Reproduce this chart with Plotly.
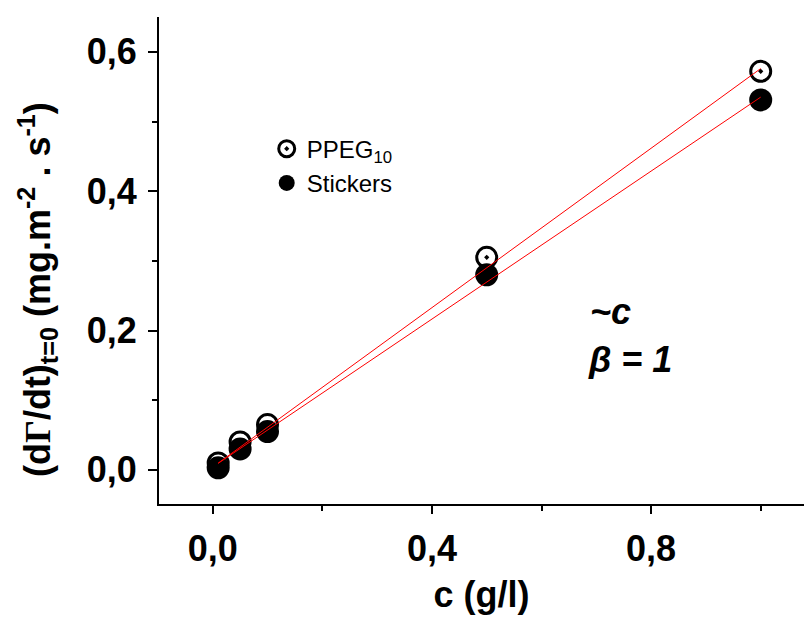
import plotly.graph_objects as go
import numpy as np

# Data
conc = [0.01, 0.05, 0.1, 0.5, 1.0]
ppeg10 = [0.010, 0.040, 0.065, 0.305, 0.572]
stickers = [0.003, 0.030, 0.055, 0.280, 0.531]

# linear fits (slope, intercept)
fit_ppeg = [0.572, 0.004]
fit_stick = [0.531, 0.004]
fit_x = [0.01, 1.0]

x_ticks = [0, 0.4, 0.8]
y_ticks = [0, 0.2, 0.4, 0.6]

font_fam = "Liberation Sans, Arial, sans-serif"
big = 36

fig = go.Figure()
fig.add_trace(go.Scatter(
    x=conc, y=ppeg10, mode="markers", name="PPEG<sub>10</sub>",
    marker=dict(symbol="circle-dot", size=20, color="white",
                line=dict(color="black", width=3))))
fig.add_trace(go.Scatter(
    x=conc, y=stickers, mode="markers", name="Stickers",
    marker=dict(symbol="circle", size=23, color="black",
                line=dict(color="black", width=0))))
for fp in (fit_ppeg, fit_stick):
    fx = np.array(fit_x)
    fig.add_trace(go.Scatter(
        x=fx, y=fp[0] * fx + fp[1], mode="lines", showlegend=False,
        line=dict(color="red", width=1)))

fig.update_layout(
    width=804, height=617,
    margin=dict(l=159, r=0, t=17, b=113),
    plot_bgcolor="white", paper_bgcolor="white",
    separators=", ",
    font=dict(family=font_fam, color="black"),
    legend=dict(x=0.167, y=0.775, xanchor="left", yanchor="top",
                bgcolor="rgba(0,0,0,0)", font=dict(size=24, family=font_fam),
                itemsizing="trace", tracegroupgap=0),
    showlegend=True,
)
fig.update_xaxes(
    range=[-0.098, 1.079], tickvals=x_ticks, tickformat=".1f",
    ticks="outside", ticklen=8, tickwidth=2, tickcolor="black",
    showline=True, linewidth=2, linecolor="black", showgrid=False, zeroline=False,
    tickfont=dict(size=big, family=font_fam, weight="bold"), ticklabelstandoff=4,
    minor=dict(tickvals=[0.2, 0.6, 1.0], ticks="outside", ticklen=5, tickwidth=2, tickcolor="black"),
    title=dict(text="c (g/l)", font=dict(size=big, family=font_fam, weight="bold"), standoff=14),
)
fig.update_yaxes(
    range=[-0.049, 0.65], tickvals=y_ticks, tickformat=".1f",
    ticks="outside", ticklen=9, tickwidth=2, tickcolor="black",
    showline=True, linewidth=2, linecolor="black", showgrid=False, zeroline=False,
    tickfont=dict(size=big, family=font_fam, weight="bold"), ticklabelstandoff=4,
    minor=dict(tickvals=[0.1, 0.3, 0.5], ticks="outside", ticklen=5, tickwidth=2, tickcolor="black"),
)

# y-axis title as a rotated annotation for exact placement
fig.add_annotation(
    x=(37 - 159) / 645, y=1 - (290 - 17) / 487, xref="paper", yref="paper",
    text='(d<span style="font-family:Liberation Serif">Γ</span>/dt)<sub>t=0</sub> (mg.m<sup>-2</sup> . s<sup>-1</sup>)',
    textangle=-90, showarrow=False, xanchor="center", yanchor="middle",
    font=dict(size=big, family=font_fam, weight="bold"))

fig.add_annotation(x=0.685, y=0.227, xref="x", yref="y", text="~c",
                   showarrow=False, xanchor="left",
                   font=dict(size=big, family=font_fam, weight="bold", style="italic"))
fig.add_annotation(x=0.682, y=0.159, xref="x", yref="y", text="β = 1",
                   showarrow=False, xanchor="left",
                   font=dict(size=big, family=font_fam, weight="bold", style="italic"))

fig.write_html("out.html")
